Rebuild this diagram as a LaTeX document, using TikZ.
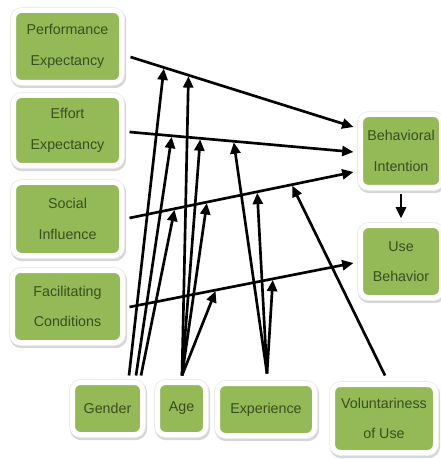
\documentclass[tikz,border=0pt]{standalone}
\usepackage{fontspec}
\setmainfont{Liberation Sans}
\usetikzlibrary{arrows.meta,calc}
\definecolor{boxgreen}{RGB}{148,185,87}
\definecolor{boxtext}{RGB}{58,78,32}
\tikzset{
  box/.style={
    rounded corners=6pt, fill=boxgreen, draw=white, line width=3.75pt,
    preaction={draw=gray!32, line width=5.5pt,
      transform canvas={shift={(0.7pt,-1.5pt)}}},
    preaction={draw=gray!16, line width=5pt},
    inner sep=0pt, align=center, text=boxtext,
    font=\fontsize{10.7}{23}\selectfont},
  arr/.style={line width=2pt, -{Triangle[length=8.5pt,width=7.5pt]}},
  mod/.style={arr, shorten >=0.8pt}
}
\begin{document}
\begin{tikzpicture}[x=0.75pt,y=-0.75pt]
\useasboundingbox (0,0) rectangle (440,459);

% constructs
\node[box, minimum width=81pt, minimum height=54pt] (pe) at (67.5,46.5) {Performance\\Expectancy};
\node[box, minimum width=81pt, minimum height=52.5pt] (ee) at (67.5,130.5) {Effort\\Expectancy};
\node[box, minimum width=81pt, minimum height=54.75pt] (si) at (67.5,219) {Social\\Influence};
\node[box, minimum width=82.5pt, minimum height=54pt] (fc) at (67.5,306.5) {Facilitating\\Conditions};
\node[box, minimum width=60.75pt, minimum height=54.75pt] (bi) at (401,151) {Behavioral\\Intention};
\node[box, minimum width=60.75pt, minimum height=54pt] (ub) at (401,261.5) {Use\\Behavior};

% moderators
\node[box, minimum width=52.5pt, minimum height=39pt] (gen) at (107.5,408.5) {Gender};
\node[box, minimum width=36pt, minimum height=39pt] (age) at (181.5,408.5) {Age};
\node[box, minimum width=72.75pt, minimum height=39pt] (exp) at (266,409.5) {Experience};
\node[box, minimum width=77.25pt, minimum height=51pt] (vol) at (384,418.5) {Voluntariness\\of Use};

% direct effects
\draw[arr] ($(pe.east)+(6.5,10.5)$) -- coordinate[pos=.15] (p1) coordinate[pos=.26] (p2)
  ($(bi.west)+(-4.5,-24)$);
\draw[arr] ($(ee.east)+(5.5,1.5)$) -- coordinate[pos=.189] (e1) coordinate[pos=.316] (e2)
  coordinate[pos=.465] (e3) ($(bi.west)+(-4.5,1)$);
\draw[arr] ($(si.east)+(5.5,-1)$) -- coordinate[pos=.202] (s1) coordinate[pos=.346] (s2)
  coordinate[pos=.570] (s3) coordinate[pos=.724] (s4) ($(bi.west)+(-4.5,21)$);
\draw[arr] ($(fc.east)+(4.5,0.5)$) -- coordinate[pos=.386] (f1) coordinate[pos=.640] (f2)
  ($(ub.west)+(-4.5,1.5)$);
\draw[arr] ($(bi.south)+(0,4.5)$) -- ($(ub.north)+(0,-4.5)$);

% moderating effects
\draw[mod] ($(gen.north)+(21.5,-4.5)$) -- (p1);
\draw[mod] ($(gen.north)+(28.5,-4.5)$) -- (e1);
\draw[mod] ($(gen.north)+(33.5,-4.5)$) -- (s1);
\draw[mod] ($(age.north)+(0.5,-4.5)$) -- (p2);
\draw[mod] ($(age.north)+(0.5,-4.5)$) -- (e2);
\draw[mod] ($(age.north)+(0.5,-4.5)$) -- (s2);
\draw[mod] ($(age.north)+(0.5,-4.5)$) -- (f1);
\draw[mod] ($(exp.north)+(1,-7.5)$) -- (e3);
\draw[mod] ($(exp.north)+(1,-7.5)$) -- (s3);
\draw[mod] ($(exp.north)+(1,-7.5)$) -- (f2);
\draw[mod] ($(vol.north)+(1,-6.5)$) -- (s4);
\end{tikzpicture}
\end{document}
